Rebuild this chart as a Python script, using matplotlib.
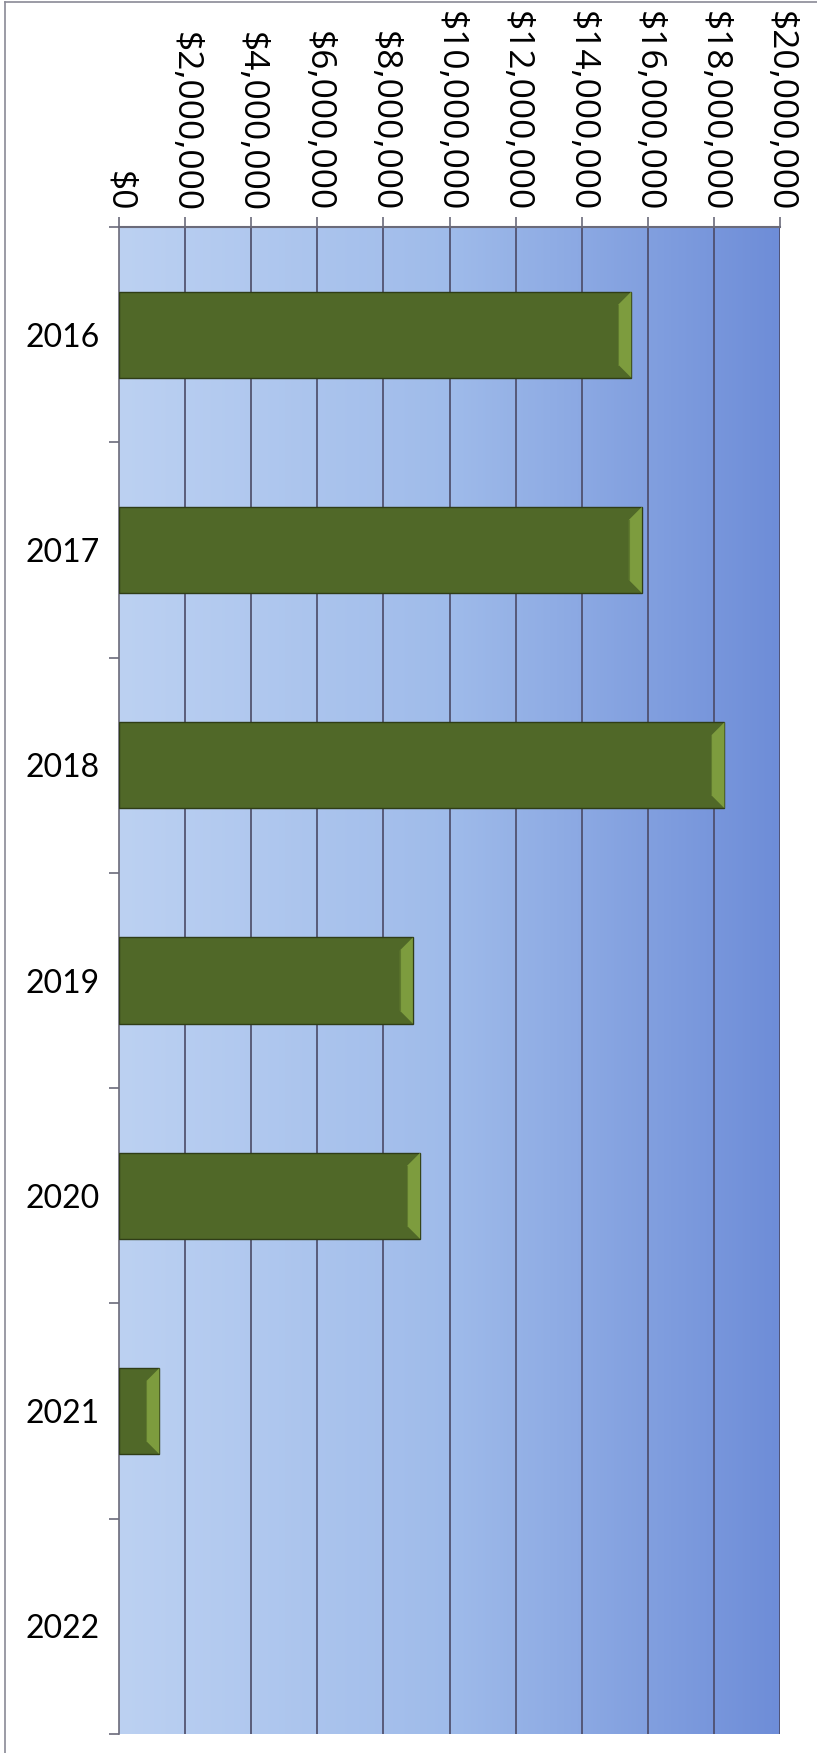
import numpy as np
import matplotlib.pyplot as plt
from matplotlib.colors import LinearSegmentedColormap
from matplotlib.patches import Polygon
from matplotlib.lines import Line2D

years = ['2016', '2017', '2018', '2019', '2020', '2021', '2022']
amounts = [15_500_000, 15_820_000, 18_320_000, 8_890_000, 9_110_000, 1_220_000, 0]

x_max = 20_000_000
x_step = 2_000_000

fig = plt.figure(figsize=(8.17, 17.53), dpi=100)
ax = fig.add_axes([0.1457, 0.0108, 0.8090, 0.8597])

n = len(years)
y_pos = np.arange(n)
ax.set_xlim(0, x_max)
ax.set_ylim(n - 0.5, -0.5)

# blue background, light on the left and darker to the right
bg = LinearSegmentedColormap.from_list('bg', ['#bcd1f2', '#9fbbea', '#6e8dd8'])
grad = np.tile(np.linspace(0, 1, 256), (8, 1))
ax.imshow(grad, cmap=bg, extent=[0, x_max, n - 0.5, -0.5], aspect='auto',
          interpolation='bicubic', zorder=0)

# vertical gridlines
for gx in np.arange(x_step, x_max + 1, x_step):
    ax.axvline(gx, color='#4b4a66', lw=1.2, zorder=1)

bars = ax.barh(y_pos, amounts, height=0.4, color='#506828', edgecolor='#2f3d17',
               linewidth=1.0, zorder=3)

# light bevel on the right end of every bar
ax_w_px = fig.get_figwidth() * fig.dpi * ax.get_position().width
ax_h_px = fig.get_figheight() * fig.dpi * ax.get_position().height
bev_x = 13 * x_max / ax_w_px
bev_y = 13 * n / ax_h_px
for b in bars:
    xe = b.get_width()
    if xe <= 0:
        b.set_linewidth(0)
        continue
    y0 = b.get_y()
    y1 = y0 + b.get_height()
    ax.add_patch(Polygon([(xe, y0), (xe - bev_x, y0 + bev_y), (xe - bev_x, y1 - bev_y), (xe, y1)],
                         closed=True, facecolor='#7d9c3e', edgecolor='none', zorder=4))
    ax.plot([xe - bev_x, xe - bev_x], [y0 + bev_y, y1 - bev_y], color='#5f7a2e', lw=0.8, zorder=5)

# value axis on top, labels turned down the page
ticks = np.arange(0, x_max + 1, x_step)
tick_labels = ['${:,.0f}'.format(v) for v in ticks]
ax.xaxis.tick_top()
ax.set_xticks(ticks, tick_labels, fontfamily='Open Sans', fontsize=25.5,
              rotation=-90, va='bottom', ha='center')
ax.tick_params(axis='x', which='major', direction='out', length=7, width=1.2,
               color='#6b6b7a', pad=4, top=True, bottom=False)

# year labels, tick marks between the categories
ax.set_yticks(y_pos, years, fontfamily='Lato', fontsize=23)
ax.set_yticks(np.arange(-0.5, n), minor=True)
ax.tick_params(axis='y', which='major', length=0, pad=14)
ax.tick_params(axis='y', which='minor', direction='out', length=7, width=1.2, color='#6b6b7a')

ax.spines['right'].set_visible(False)
ax.spines['bottom'].set_visible(False)
ax.spines['left'].set_color('#6b6b7a')
ax.spines['left'].set_linewidth(1.2)
ax.spines['top'].set_color('#6b6b7a')
ax.spines['top'].set_linewidth(1.5)

# thin frame around the chart
fig.add_artist(Line2D([0.006, 0.006], [0, 0.999], color='#8a8a96', lw=1.2))
fig.add_artist(Line2D([0.006, 1.0], [0.999, 0.999], color='#8a8a96', lw=1.2))

fig.savefig('out.png', dpi=100)
